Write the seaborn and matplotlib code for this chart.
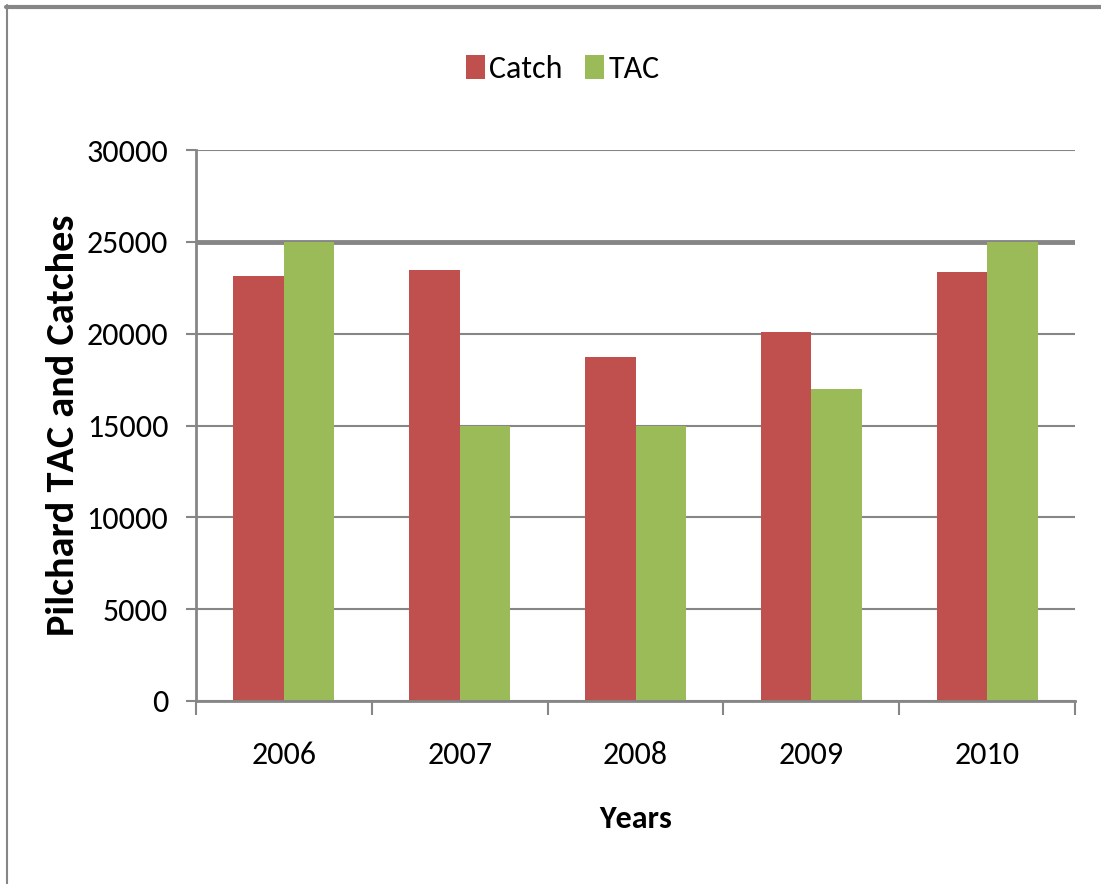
import pandas as pd
import matplotlib.pyplot as plt
import matplotlib.lines as mlines
import seaborn as sns

# Pilchard catch vs total allowable catch
years = ['2006', '2007', '2008', '2009', '2010']
catch = [23150, 23450, 18750, 20100, 23350]
tac = [25000, 15000, 15000, 17000, 25000]
series = ['Catch', 'TAC']
colors = {'Catch': '#C0504D', 'TAC': '#9BBB59'}
y_ticks = [0, 5000, 10000, 15000, 20000, 25000, 30000]

df = pd.DataFrame({
    'Year': years * 2,
    'Series': ['Catch'] * len(years) + ['TAC'] * len(years),
    'Value': catch + tac,
})

sns.set_style('white')
plt.rcParams['font.family'] = ['Carlito', 'DejaVu Sans']
plt.rcParams['text.color'] = 'black'
plt.rcParams['axes.labelcolor'] = 'black'
plt.rcParams['xtick.color'] = 'black'
plt.rcParams['ytick.color'] = 'black'

grey = '#868686'
fig = plt.figure(figsize=(11.01, 8.84), dpi=100)
ax = fig.add_axes([196 / 1101, 1 - 701 / 884, 879 / 1101, 551 / 884])

sns.barplot(data=df, x='Year', y='Value', hue='Series', hue_order=series,
            palette=colors, width=0.575, gap=0, saturation=1, ax=ax,
            edgecolor='none', linewidth=0)

ax.set_ylim(0, 30000)
ax.set_xlim(-0.5, len(years) - 0.5)
ax.set_yticks(y_ticks)
ax.set_yticklabels([str(v) for v in y_ticks], fontsize=23)
ax.tick_params(axis='x', which='major', bottom=False, labelsize=23, pad=25)
ax.set_xticks([i - 0.5 for i in range(len(years) + 1)], minor=True)
ax.tick_params(axis='x', which='minor', bottom=True, length=10, width=1.5,
               color=grey, direction='out')
ax.tick_params(axis='y', left=True, length=7, width=1.5, color=grey, pad=13,
               direction='out')

ax.grid(axis='y', color=grey, linewidth=1.5)
ax.set_axisbelow(True)
ax.get_ygridlines()[5].set_linewidth(3.5)

for side in ['top', 'right']:
    ax.spines[side].set_visible(False)
for side in ['left', 'bottom']:
    ax.spines[side].set_color(grey)
    ax.spines[side].set_linewidth(2)

ax.set_xlabel('Years', fontsize=23, fontweight='bold', labelpad=26)
ax.set_ylabel('Pilchard TAC and Catches', fontsize=29, fontweight='bold', labelpad=5)

handles, labels = ax.get_legend_handles_labels()
ax.legend(handles, labels, loc='center', bbox_to_anchor=(0.4175, 1.147),
          ncol=2, frameon=False, fontsize=23, handlelength=0.58, handleheight=0.8,
          handletextpad=0.15, columnspacing=0.7, borderaxespad=0, borderpad=0)

# outer chart frame
fig.add_artist(mlines.Line2D([6 / 1101, 1], [1 - 7 / 884, 1 - 7 / 884], color=grey,
                             linewidth=3, transform=fig.transFigure))
fig.add_artist(mlines.Line2D([7 / 1101, 7 / 1101], [0, 1 - 5 / 884], color=grey,
                             linewidth=1.5, transform=fig.transFigure))

fig.savefig('out.png', dpi=100)
